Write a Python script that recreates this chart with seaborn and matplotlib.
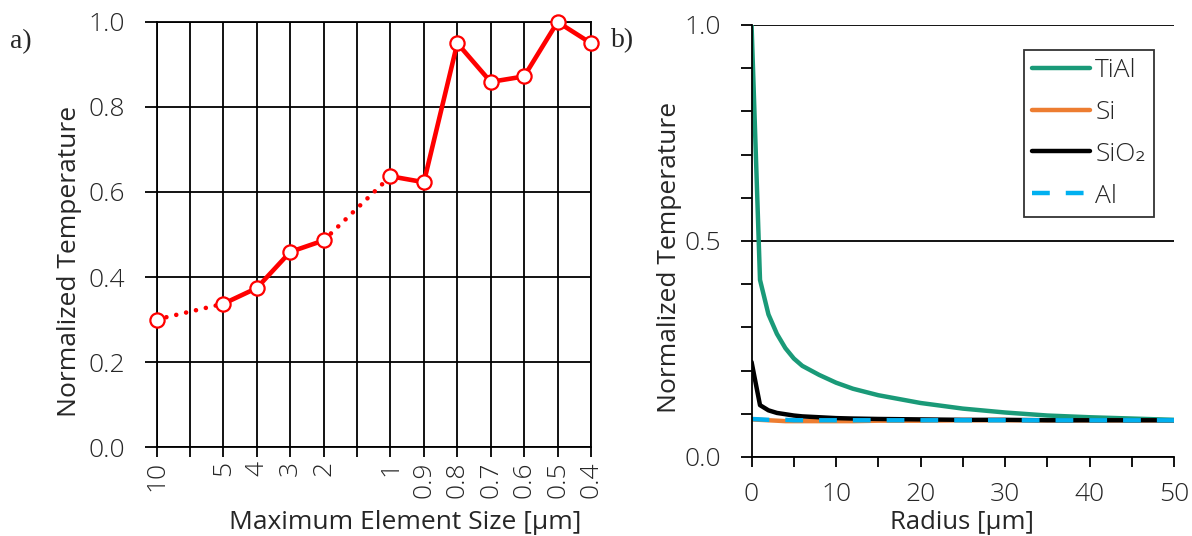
import numpy as np
import pandas as pd
import matplotlib
matplotlib.use("Agg")
import matplotlib.pyplot as plt
import seaborn as sns

sns.set_theme(style="white")
plt.rcParams["font.family"] = ["Open Sans", "DejaVu Sans"]
plt.rcParams["font.weight"] = "light"

# ---- panel a: mesh convergence ----
size_ticks = ["10", "", "5", "4", "3", "2", "", "1", "0.9", "0.8", "0.7", "0.6", "0.5", "0.4"]
element_size = ["10", "5", "4", "3", "2", "1", "0.9", "0.8", "0.7", "0.6", "0.5", "0.4"]
norm_temp_a = [0.300, 0.337, 0.374, 0.459, 0.486, 0.637, 0.623, 0.950, 0.859, 0.872, 1.000, 0.950]

# ---- panel b: radial profiles ----
radius = [0, 1, 2, 3, 4, 5, 6, 8, 10, 12, 15, 20, 25, 30, 35, 40, 45, 50]
temp_tial = [1.000, 0.410, 0.330, 0.285, 0.252, 0.228, 0.211, 0.190, 0.172, 0.158, 0.143,
             0.125, 0.112, 0.103, 0.096, 0.092, 0.089, 0.086]
temp_si = [0.087, 0.086, 0.085, 0.084, 0.083, 0.083, 0.083, 0.083, 0.083, 0.083, 0.084,
           0.084, 0.085, 0.085, 0.085, 0.085, 0.085, 0.085]
temp_sio2 = [0.220, 0.120, 0.108, 0.102, 0.099, 0.096, 0.094, 0.092, 0.090, 0.089, 0.088,
             0.087, 0.086, 0.086, 0.085, 0.085, 0.085, 0.085]
temp_al = [0.088, 0.087, 0.086, 0.086, 0.086, 0.085, 0.085, 0.085, 0.085, 0.085, 0.085,
           0.085, 0.085, 0.085, 0.085, 0.085, 0.085, 0.085]

RED = "#FF0000"
TICK_FS = 19
YLABEL_FS = 19
LEGEND_FS = 19
LW_AX = 1.3

fig = plt.figure(figsize=(11.92, 5.36), dpi=100)
ax1 = fig.add_axes([0.1313, 0.166, 0.3645, 0.793])
ax2 = fig.add_axes([0.6305, 0.1474, 0.3545, 0.806])

# ---------- panel a ----------
pos = [size_ticks.index(s) for s in element_size]
df_a = pd.DataFrame({"pos": pos, "temp": norm_temp_a})

dotted_runs = [(0, 1), (4, 5)]      # links that jump over the skipped sizes
solid_runs = [(1, 4), (5, 11)]
for i0, i1 in dotted_runs:
    seg = df_a.iloc[i0:i1 + 1]
    sns.lineplot(data=seg, x="pos", y="temp", ax=ax1, color=RED, lw=3.3,
                 linestyle=(0, (0.01, 2.2)), dash_capstyle="round", sort=False)
for i0, i1 in solid_runs:
    seg = df_a.iloc[i0:i1 + 1]
    sns.lineplot(data=seg, x="pos", y="temp", ax=ax1, color=RED, lw=3.3,
                 solid_capstyle="round", sort=False)
sns.scatterplot(data=df_a, x="pos", y="temp", ax=ax1, s=105, marker="o",
                facecolor="white", edgecolor=RED, linewidth=1.6, zorder=5, clip_on=False)

ax1.set_xlim(0, len(size_ticks) - 1)
ax1.set_ylim(0, 1.0)
ax1.set_xticks(range(len(size_ticks)))
ax1.set_xticklabels(size_ticks, rotation=90, fontsize=TICK_FS)
ax1.set_yticks(np.arange(0, 1.01, 0.2))
ax1.set_yticklabels([f"{v:.1f}" for v in np.arange(0, 1.01, 0.2)], fontsize=TICK_FS)
ax1.grid(True, color="black", lw=LW_AX)
ax1.set_axisbelow(True)
for sp in ax1.spines.values():
    sp.set_color("black")
    sp.set_linewidth(LW_AX)
ax1.tick_params(axis="y", direction="out", length=8.5, width=LW_AX, color="black",
                left=True, pad=14)
ax1.tick_params(axis="x", direction="out", length=7.2, width=LW_AX, color="black",
                bottom=True, pad=3)
ax1.set_xlabel("Maximum Element Size [µm]", fontsize=19, va="baseline")
ax1.xaxis.set_label_coords(0.573, -0.1925)
ax1.set_ylabel("Normalized Temperature", fontsize=YLABEL_FS)
ax1.yaxis.set_label_coords(-0.1715, 0.4376)

# ---------- panel b ----------
materials = ["TiAl", "Si", "SiO₂", "Al"]
df_b = pd.DataFrame({
    "radius": radius * 4,
    "temp": temp_tial + temp_si + temp_sio2 + temp_al,
    "material": [m for m in materials for _ in radius],
})
palette = {"TiAl": "#1A9A78", "Si": "#ED7D31", "SiO₂": "#000000", "Al": "#00B0F0"}
dash_map = {"TiAl": "", "Si": "", "SiO₂": "", "Al": (4.0, 3.6)}
sns.lineplot(data=df_b, x="radius", y="temp", hue="material", style="material",
             palette=palette, dashes=dash_map, lw=3.2, ax=ax2, sort=False,
             hue_order=materials, style_order=materials)

ax2.set_xlim(0, 50)
ax2.set_ylim(0, 1.0)
ax2.set_xticks(range(0, 51, 10))
ax2.set_xticks(range(5, 50, 10), minor=True)
ax2.set_yticks([0, 0.5, 1.0])
ax2.set_yticks(np.arange(0.1, 1.0, 0.1), minor=True)
ax2.set_yticklabels(["0.0", "0.5", "1.0"], fontsize=TICK_FS)
ax2.set_xticklabels([str(v) for v in range(0, 51, 10)], fontsize=TICK_FS)
ax2.yaxis.grid(True, which="major", color="black", lw=LW_AX)
ax2.set_axisbelow(True)
for sp in ax2.spines.values():
    sp.set_color("black")
    sp.set_linewidth(LW_AX)
ax2.spines["top"].set_visible(False)
ax2.spines["right"].set_visible(False)
ax2.tick_params(axis="y", which="both", direction="out", length=8, width=LW_AX,
                color="black", left=True, pad=14)
ax2.tick_params(axis="x", which="both", direction="out", length=7.2, width=LW_AX,
                color="black", bottom=True, pad=11)
ax2.set_xlabel("Radius [µm]", fontsize=18.5, va="baseline")
ax2.xaxis.set_label_coords(0.499, -0.1667)
ax2.set_ylabel("Normalized Temperature", fontsize=YLABEL_FS)
ax2.yaxis.set_label_coords(-0.1645, 0.463)

leg = ax2.legend(loc="upper right", bbox_to_anchor=(0.9527, 0.942), borderaxespad=0,
                 fontsize=LEGEND_FS, frameon=True, fancybox=False, handlelength=2.2,
                 handletextpad=0.2, labelspacing=0.64, borderpad=0.3, title=None)
leg.get_frame().set_edgecolor("black")
leg.get_frame().set_linewidth(LW_AX)
for h in leg.get_lines():
    h.set_linewidth(3.2)

# panel letters
fig.text(10 / 1192, 1 - 42 / 536, "a)", fontsize=20, family="Liberation Serif",
         weight="normal", va="center", ha="left")
fig.text(611 / 1192, 1 - 41 / 536, "b)", fontsize=20, family="Liberation Serif",
         weight="normal", va="center", ha="left")

fig.savefig("out.png", dpi=100)
